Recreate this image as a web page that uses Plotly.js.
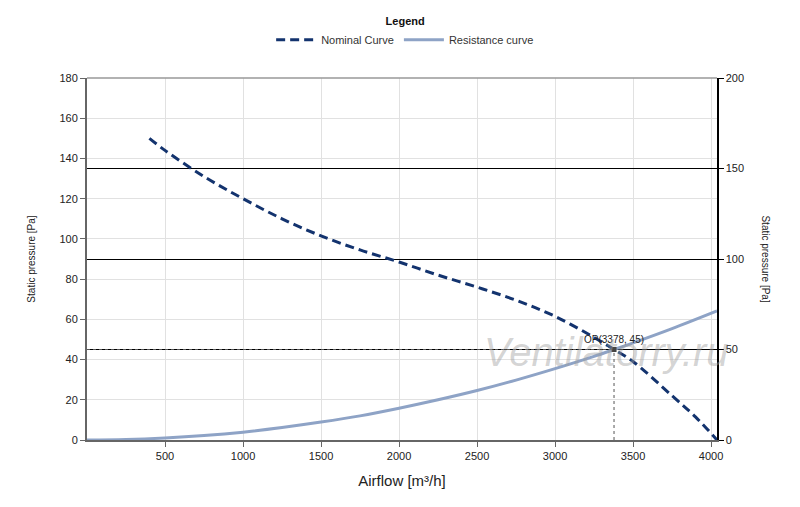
<!DOCTYPE html>
<html>
<head>
<meta charset="utf-8">
<script src="https://cdn.plot.ly/plotly-3.0.1.min.js"></script>
<style>
  body { margin: 0; background: #fff; }
  #graph { width: 800px; height: 507px; }
</style>
</head>
<body>
<div id="graph"></div>
<script>
// values
const nominalFlow = [400, 500, 750, 1000, 1250, 1500, 1750, 2000, 2250, 2500, 2750, 3000, 3250, 3378, 3500, 3750, 3900, 4038];
const nominalPressure = [150, 144, 131, 120, 110, 101.5, 94.5, 88.5, 82, 76, 69.5, 61.5, 51, 45, 39, 22, 11.5, 0];

const resistanceFlow = [0, 250, 500, 750, 1000, 1250, 1500, 1750, 2000, 2250, 2500, 2750, 3000, 3250, 3378, 3500, 3750, 4038];
const resistancePressure = [0, 0.25, 1, 2.2, 3.9, 6.2, 8.9, 12, 15.8, 20, 24.6, 29.8, 35.5, 41.6, 45, 48.3, 55.4, 64.2];

const opFlow = 3378;
const opPressure = 45;

const xTicks = [500, 1000, 1500, 2000, 2500, 3000, 3500, 4000];
const leftTicks = [0, 20, 40, 60, 80, 100, 120, 140, 160, 180];
const rightTicks = [0, 50, 100, 150, 200];

const tickFont = { family: "Liberation Sans, Arial, sans-serif", size: 11, color: "#222" };

const traces = [
  {
    x: nominalFlow,
    y: nominalPressure,
    mode: "lines",
    name: "Nominal Curve",
    line: { color: "#13336e", width: 3, dash: "9px,5px", shape: "spline" },
  },
  {
    x: resistanceFlow,
    y: resistancePressure,
    mode: "lines",
    name: "Resistance curve",
    line: { color: "#8ea3c6", width: 3, shape: "spline" },
  },
  // dotted guides to the operating point
  {
    x: [0, opFlow],
    y: [opPressure, opPressure],
    mode: "lines",
    showlegend: false,
    hoverinfo: "skip",
    line: { color: "#555", width: 1, dash: "dot" },
  },
  {
    x: [opFlow, opFlow],
    y: [0, opPressure],
    mode: "lines",
    showlegend: false,
    hoverinfo: "skip",
    line: { color: "#555", width: 1, dash: "dot" },
  },
  {
    x: [opFlow],
    y: [opPressure],
    mode: "markers",
    showlegend: false,
    marker: { color: "#444", size: 5, symbol: "square" },
  },
  // invisible trace so the right axis is drawn
  {
    x: [0],
    y: [0],
    yaxis: "y2",
    mode: "markers",
    showlegend: false,
    hoverinfo: "skip",
    marker: { opacity: 0 },
  },
];

const layout = {
  width: 800,
  height: 507,
  margin: { l: 87, r: 83, t: 78, b: 67, autoexpand: false },
  paper_bgcolor: "#fff",
  plot_bgcolor: "#fff",
  font: { family: "Liberation Sans, Arial, sans-serif", color: "#333" },
  showlegend: true,
  legend: {
    orientation: "h",
    x: 0.505,
    xref: "paper",
    xanchor: "center",
    y: 1.185,
    yanchor: "top",
    font: { size: 11, color: "#333" },
    title: { text: "<b>Legend</b>", side: "top center", font: { size: 11, color: "#111" } },
    itemwidth: 40,
    tracegroupgap: 0,
  },
  xaxis: {
    range: [0, 4038],
    tickvals: xTicks,
    ticktext: xTicks.map(String),
    ticks: "outside",
    ticklen: 5,
    tickcolor: "#666",
    tickfont: tickFont,
    showgrid: true,
    gridcolor: "#e1e1e1",
    zeroline: false,
    showline: true,
    linecolor: "#666",
    linewidth: 2,
    mirror: false,
    title: { text: "Airflow [m³/h]", font: { size: 15, color: "#222" }, standoff: 14 },
  },
  yaxis: {
    range: [0, 180],
    tickvals: leftTicks,
    ticktext: leftTicks.map(String),
    ticks: "outside",
    ticklen: 5,
    tickcolor: "#666",
    tickfont: tickFont,
    showgrid: true,
    gridcolor: "#e1e1e1",
    zeroline: false,
    showline: true,
    linecolor: "#666",
    linewidth: 2,
    title: { text: "Static pressure [Pa]", font: { size: 10, color: "#222" }, standoff: 22 },
  },
  yaxis2: {
    overlaying: "y",
    side: "right",
    range: [0, 200],
    tickvals: rightTicks,
    ticktext: rightTicks.map(String),
    ticks: "outside",
    ticklen: 5,
    tickcolor: "#000",
    tickfont: tickFont,
    showgrid: true,
    gridcolor: "#000",
    gridwidth: 1,
    zeroline: false,
    showline: true,
    linecolor: "#000",
    linewidth: 1.5,
  },
  shapes: [
    {
      type: "line",
      xref: "paper",
      yref: "paper",
      x0: 0,
      x1: 1,
      y0: 1,
      y1: 1,
      line: { color: "#999", width: 1.5 },
    },
  ],
  annotations: [
    {
      x: opFlow,
      y: opPressure,
      text: "OP(3378, 45)",
      showarrow: false,
      yanchor: "bottom",
      yshift: 3,
      font: { size: 10, color: "#222" },
    },
    {
      xref: "paper",
      yref: "paper",
      x: 1.089,
      y: 0.5,
      text: "Static pressure [Pa]",
      textangle: 90,
      showarrow: false,
      font: { size: 10, color: "#222" },
    },
    {
      x: 3327,
      y: 44,
      text: "Ventilatorry.ru",
      showarrow: false,
      font: { size: 40, color: "rgba(160,160,160,0.45)", style: "italic" },
    },
  ],
};

Plotly.newPlot("graph", traces, layout, { displayModeBar: false, staticPlot: true });
</script>
</body>
</html>
